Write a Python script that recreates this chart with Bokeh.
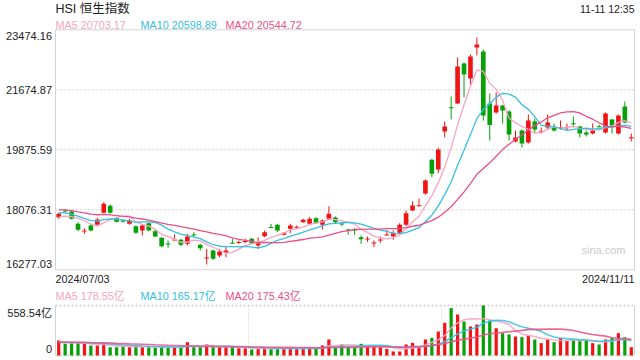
import numpy as np
import pandas as pd
from bokeh.plotting import figure
from bokeh.models import Range1d
from bokeh.core.properties import value
from bokeh.embed import file_html
from bokeh.resources import INLINE

# ---------------- data ----------------
TITLE = "HSI 恒生指数"
TIME_LABEL = "11-11 12:35"
START_LABEL = "2024/07/03"
END_LABEL = "2024/11/11"
PRICE_TICKS = [16277.03, 18076.31, 19875.59, 21674.87, 23474.16]
PRICE_TICK_LABELS = ["16277.03", "18076.31", "19875.59", "21674.87", "23474.16"]
VOL_TICKS = [0, 558.54]
VOL_TICK_LABELS = ["0", "558.54亿"]
MA_PRICE_LABELS = ["MA5 20703.17", "MA10 20598.89", "MA20 20544.72"]
MA_VOL_LABELS = ["MA5 178.55亿", "MA10 165.17亿", "MA20 175.43亿"]
WATERMARK = "sina.com"

OPEN = [17855, 18056, 18026, 17657, 17441, 17606, 17627, 17987, 18197, 17825,
        17747, 17657, 17585, 17456, 17675, 17435, 17237, 17066, 17171, 17177,
        17057, 17336, 17027, 16625, 16856, 16706, 16796, 17087, 17096, 17126,
        17207, 17006, 17285, 17561, 17627, 17327, 17507, 17540, 17705, 17657,
        17825, 17627, 17807, 17845, 17666, 17486, 17489, 17255, 17195, 17075,
        17165, 17315, 17285, 17387, 17627, 18056, 18197, 18565, 19576, 19285,
        20424, 21153, 21264, 22464, 22014, 22944, 22824, 21264, 20994, 21204,
        21024, 20124, 20454, 20094, 20724, 20417, 20544, 20544, 20535, 20535,
        20674, 20574, 20394, 20364, 20580, 20394, 20784, 20364, 21174, 20237]
HIGH = [17975, 18107, 18071, 17705, 17525, 17651, 17837, 18305, 18236, 17846,
        17777, 17807, 17606, 17636, 17705, 17477, 17255, 17156, 17336, 17207,
        17357, 17405, 17057, 16907, 16886, 16907, 16976, 17207, 17156, 17207,
        17237, 17255, 17456, 17657, 17657, 17405, 17657, 17606, 17807, 17855,
        17855, 17786, 18185, 17876, 17705, 17507, 17525, 17306, 17276, 17156,
        17276, 17477, 17456, 17675, 18056, 18334, 18407, 18985, 19606, 19935,
        20724, 21474, 22644, 22494, 22734, 23244, 22884, 21564, 21594, 21219,
        21054, 20454, 20484, 20934, 20814, 20544, 20934, 20664, 20754, 20664,
        20874, 20589, 20454, 20664, 20634, 20994, 20799, 20934, 21324, 20364]
LOW = [17807, 17987, 17786, 17435, 17357, 17426, 17606, 17975, 17957, 17696,
       17696, 17627, 17357, 17306, 17435, 17255, 16955, 16937, 17156, 16985,
       17006, 17276, 16856, 16436, 16577, 16655, 16655, 17066, 17057, 17075,
       17057, 16907, 17255, 17540, 17405, 17306, 17375, 17495, 17687, 17636,
       17657, 17485, 17786, 17657, 17585, 17327, 17327, 17057, 17116, 16955,
       17087, 17306, 17177, 17357, 17585, 18036, 18176, 18526, 19054, 19174,
       20244, 20784, 21249, 21444, 21834, 22704, 20754, 20154, 20964, 20664,
       20154, 20094, 19944, 20064, 20364, 20364, 20484, 20424, 20484, 20454,
       20544, 20244, 20274, 20334, 20544, 20364, 20364, 20334, 20664, 20124]
CLOSE = [17957, 18041, 17807, 17477, 17456, 17456, 17786, 18257, 17987, 17717,
         17726, 17756, 17387, 17606, 17456, 17276, 16985, 17045, 17186, 17027,
         17276, 17315, 16925, 16646, 16607, 16826, 16856, 17075, 17111, 17141,
         17075, 17075, 17405, 17549, 17456, 17387, 17606, 17570, 17777, 17807,
         17675, 17756, 17957, 17705, 17645, 17465, 17465, 17195, 17216, 17096,
         17186, 17336, 17387, 17627, 17975, 18206, 18215, 18955, 19156, 19885,
         20574, 21135, 22374, 22134, 22674, 23034, 20904, 20619, 21204, 21054,
         20334, 20244, 20064, 20754, 20484, 20435, 20694, 20454, 20553, 20553,
         20655, 20364, 20334, 20454, 20568, 20964, 20604, 20904, 20694, 20255]
VOLUME = [167, 130, 138, 138, 130, 112, 112, 130, 93, 93,
          100, 93, 112, 93, 93, 86, 93, 93, 93, 93,
          149, 93, 93, 123, 93, 93, 93, 93, 82, 82,
          67, 74, 82, 74, 82, 74, 86, 74, 82, 86,
          82, 112, 179, 93, 123, 93, 93, 130, 112, 112,
          93, 74, 45, 45, 123, 141, 100, 179, 197, 268,
          365, 529, 458, 380, 324, 346, 558.5, 391, 305, 249,
          235, 212, 205, 223, 179, 138, 179, 149, 194, 168,
          179, 160, 168, 138, 123, 179, 194, 249, 205, 93]
# closes / volumes of the sessions before the window (only feed the moving averages)
PRIOR_CLOSE = [18100, 18250, 18180, 18120, 18200, 18150, 18080, 18230, 18140, 18200,
               18050, 18180, 18090, 18200, 18075, 17900, 17850, 17760, 17810]
PRIOR_VOLUME = [150, 140, 160, 135, 155, 145, 150, 140, 165, 150,
                145, 155, 140, 150, 148, 142, 150, 140, 146]

# ---------------- style / layout ----------------
UP, DOWN = "#f01414", "#07a007"
MA_COLORS = ["#f6a5c3", "#35c0e2", "#ec4f86"]
FONT = value("Liberation Sans, Noto Sans CJK SC")
TXT = "#222222"
BORDER = "#d4d4d4"
GRID = "#dddddd"

OFF = 0
W, H = 640, 360
L, R = 55.0, 634.0
P_TOP, P_BOT = 29.3, 269.3
V_TOP, V_BOT = 305.0, 355.0
N = len(CLOSE)
PITCH = (R - L) / N
PMIN, PMAX = PRICE_TICKS[0], PRICE_TICKS[-1]
VMAX = VOL_TICKS[-1]


def px2x(px):
    return (px - L) / PITCH - 0.5


def py2p(py):
    return PMAX - (py - P_TOP) / (P_BOT - P_TOP) * (PMAX - PMIN)


def py2v(py):
    return VMAX - (py - V_TOP) / (V_BOT - V_TOP) * VMAX


idx = np.arange(N)
o, h, l, c = map(np.array, (OPEN, HIGH, LOW, CLOSE))
vol = np.array(VOLUME, dtype=float)
up = c >= o
colors = [UP if u else DOWN for u in up]

all_close = pd.Series(PRIOR_CLOSE + CLOSE, dtype=float)
all_vol = pd.Series(PRIOR_VOLUME + VOLUME, dtype=float)
k = len(PRIOR_CLOSE)
ma_p = [all_close.rolling(n).mean().values[k:] for n in (5, 10, 20)]
ma_v = [all_vol.rolling(n).mean().values[k:] for n in (5, 10, 20)]

p = figure(width=W, height=H, title=None, toolbar_location=None, output_backend="svg",
           x_axis_type=None, y_axis_type=None, min_border=0,
           x_range=Range1d(px2x(OFF), px2x(OFF + W)),
           y_range=Range1d(py2p(OFF + H), py2p(OFF)))
p.extra_y_ranges = {"vol": Range1d(py2v(OFF + H), py2v(OFF))}
p.outline_line_color = None
p.background_fill_color = "white"
p.border_fill_color = "white"

x0, x1 = -0.5, N - 0.5
# main panel dotted grid
p.segment(x0=[x0] * 3, x1=[x1] * 3, y0=PRICE_TICKS[1:4], y1=PRICE_TICKS[1:4],
          line_color=GRID, line_width=1.6, line_dash="2 2")
# main panel box
p.segment(x0=[x0, x0, x0, x1], x1=[x1, x1, x0, x1],
          y0=[PMAX, PMIN, PMIN, PMIN], y1=[PMAX, PMIN, PMAX, PMAX],
          line_color=BORDER, line_width=1)

# candles
p.segment(x0=idx, x1=idx, y0=l, y1=h, line_color=colors, line_width=1)
min_h = (PMAX - PMIN) / (P_BOT - P_TOP) * 1.0
btop = np.maximum(o, c)
bbot = np.minimum(np.minimum(o, c), btop - min_h)
p.vbar(x=idx, width=0.72, top=btop, bottom=bbot, fill_color=colors, line_color=None)

for ma, col in zip(ma_p, MA_COLORS):
    p.line(idx, ma, line_color=col, line_width=1.3)

# volume panel
vx = [x0 + N / 3, x0 + 2 * N / 3]
p.segment(x0=vx, x1=vx, y0=[0, 0], y1=[VMAX, VMAX], y_range_name="vol",
          line_color="#cccccc", line_width=1, line_dash="1 2")
p.segment(x0=[x0, x0], x1=[x1, x1], y0=[VMAX, 0], y1=[VMAX, 0], y_range_name="vol",
          line_color="#cfcfcf", line_width=1.6, line_dash="2 2")
p.segment(x0=[x0, x1], x1=[x0, x1], y0=[0, 0], y1=[VMAX, VMAX], y_range_name="vol",
          line_color=BORDER, line_width=1)
p.vbar(x=idx, width=0.5, top=vol, bottom=0, y_range_name="vol",
       fill_color=colors, line_color=None)
for ma, col in zip(ma_v, MA_COLORS):
    p.line(idx, ma, y_range_name="vol", line_color=col, line_width=1.6, line_alpha=0.85)


# texts
def txt(xs, ys, texts, size, color, align="left", rng="default"):
    kw = {} if rng == "default" else {"y_range_name": rng}
    p.text(x=xs, y=ys, text=texts, text_font=FONT, text_font_size=size,
           text_color=color, text_align=align, text_baseline="middle", **kw)


txt([px2x(L)], [py2p(8.5)], [TITLE], "12.5px", TXT)
txt([px2x(R)], [py2p(8.5)], [TIME_LABEL], "10.5px", TXT, "right")
for lab, xp, col in zip(MA_PRICE_LABELS, (L, 140, 225), MA_COLORS):
    txt([px2x(xp)], [py2p(24.5)], [lab], "10.8px", col)
tick_y = [py2p(P_BOT - 6), py2p(209.3), py2p(149.3), py2p(89.3), py2p(P_TOP + 6)]
txt([px2x(51.5)] * 5, tick_y, PRICE_TICK_LABELS, "11px", TXT, "right")
txt([px2x(L)], [py2p(278.5)], [START_LABEL], "10.8px", TXT)
txt([px2x(R)], [py2p(278.5)], [END_LABEL], "10.8px", TXT, "right")
txt([px2x(603)], [py2p(249.5)], [WATERMARK], "11px", "#cccccc", "center")
for lab, xp, col in zip(MA_VOL_LABELS, (L, 140, 225), MA_COLORS):
    txt([px2x(xp)], [py2v(295.5)], [lab], "10.8px", col, rng="vol")
txt([px2x(51.5)] * 2, [py2v(V_BOT - 7), py2v(V_TOP + 7)], VOL_TICK_LABELS, "11px", TXT,
    "right", rng="vol")

open("out.html", "w").write(file_html(p, INLINE))
